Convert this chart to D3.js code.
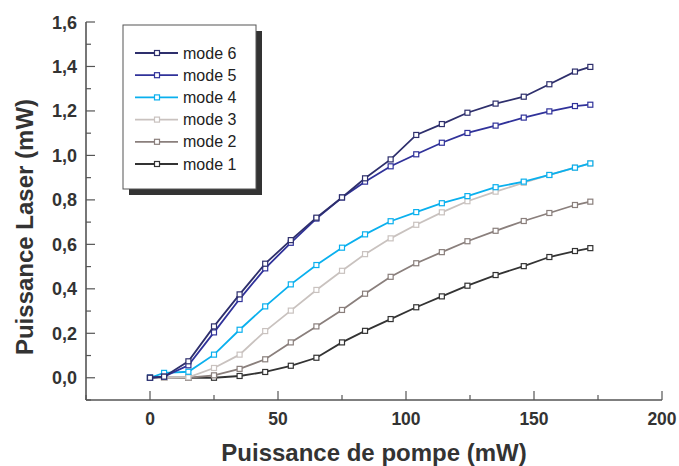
<!DOCTYPE html>
<html><head><meta charset="utf-8">
<script src="https://cdn.jsdelivr.net/npm/d3@7"></script>
<style>
body{margin:0;background:#fff;}
svg{display:block;font-family:"Liberation Sans",Arial,Helvetica,sans-serif;}
</style></head>
<body><svg id="c" width="679" height="466"></svg>
<script>
const pumpPower = [0, 5.5, 15, 25, 35, 45, 55, 65, 75, 84, 94, 104, 114, 124, 135, 146, 156, 166, 172];
const mode1 = [0, 0, 0, 0, 0.008, 0.026, 0.054, 0.090, 0.159, 0.211, 0.264, 0.317, 0.366, 0.414, 0.462, 0.502, 0.543, 0.570, 0.583];
const mode2 = [0, 0, 0, 0.011, 0.040, 0.083, 0.159, 0.231, 0.305, 0.378, 0.454, 0.515, 0.565, 0.614, 0.661, 0.705, 0.741, 0.777, 0.792];
const mode3 = [0, 0, 0.002, 0.044, 0.104, 0.210, 0.302, 0.395, 0.481, 0.556, 0.627, 0.688, 0.744, 0.794, 0.837, 0.877, 0.912, 0.945, 0.964];
const mode4 = [0, 0.022, 0.027, 0.104, 0.216, 0.321, 0.420, 0.507, 0.585, 0.645, 0.704, 0.745, 0.785, 0.817, 0.857, 0.882, 0.912, 0.945, 0.964];
const mode5 = [0, 0.005, 0.056, 0.204, 0.354, 0.492, 0.607, 0.716, 0.811, 0.882, 0.951, 1.005, 1.057, 1.101, 1.134, 1.170, 1.198, 1.222, 1.228];
const mode6 = [0, 0.005, 0.074, 0.231, 0.375, 0.513, 0.619, 0.720, 0.811, 0.897, 0.982, 1.092, 1.141, 1.192, 1.233, 1.264, 1.320, 1.377, 1.398];
const seriesNames = ["mode 1", "mode 2", "mode 3", "mode 4", "mode 5", "mode 6"];
const seriesColors = ["#333333", "#8a7f7c", "#c9c2bf", "#0ab0ee", "#30329a", "#2e2f6c"];
const xTicks = [0, 50, 100, 150, 200];
const yTicks = [0, 0.2, 0.4, 0.6, 0.8, 1.0, 1.2, 1.4, 1.6];
const xTitle = "Puissance de pompe (mW)";
const yTitle = "Puissance Laser (mW)";

const allSeries = [mode1, mode2, mode3, mode4, mode5, mode6];
const svg = d3.select("#c");
const x = d3.scaleLinear().domain([-25, 200]).range([86, 662]);
const y = d3.scaleLinear().domain([-0.1, 1.6]).range([400, 22]);
const axisColor = "#555";
const fmt = d => d3.format(".1f")(d).replace(".", ",");

// X axis
const gx = svg.append("g").attr("transform", "translate(0,400)");
gx.append("line").attr("x1", 86).attr("x2", 662).attr("stroke", axisColor).attr("stroke-width", 1.6);
const xMinor = d3.range(-25, 201, 25).filter(v => xTicks.indexOf(v) < 0);
gx.selectAll(".xmaj").data(xTicks).join("line")
  .attr("x1", d => x(d)).attr("x2", d => x(d)).attr("y1", 0).attr("y2", -9)
  .attr("stroke", axisColor).attr("stroke-width", 1.2);
gx.selectAll(".xmin").data(xMinor).join("line")
  .attr("x1", d => x(d)).attr("x2", d => x(d)).attr("y1", 0).attr("y2", -5)
  .attr("stroke", axisColor).attr("stroke-width", 1.2);
gx.selectAll(".xl").data(xTicks).join("text")
  .attr("x", d => x(d)).attr("y", 25).attr("text-anchor", "middle")
  .attr("font-size", 17.5).attr("font-weight", "bold").attr("fill", "#333").text(d => d);

// Y axis
const gy = svg.append("g");
gy.append("line").attr("x1", 86).attr("x2", 86).attr("y1", 22).attr("y2", 400).attr("stroke", axisColor).attr("stroke-width", 1.6);
const yMinor = d3.range(-1, 16, 2).map(v => v / 10);
gy.selectAll(".ymaj").data(yTicks).join("line")
  .attr("x1", 86).attr("x2", 95).attr("y1", d => y(d)).attr("y2", d => y(d))
  .attr("stroke", axisColor).attr("stroke-width", 1.2);
gy.selectAll(".ymin").data(yMinor).join("line")
  .attr("x1", 86).attr("x2", 91).attr("y1", d => y(d)).attr("y2", d => y(d))
  .attr("stroke", axisColor).attr("stroke-width", 1.2);
gy.selectAll(".yl").data(yTicks).join("text")
  .attr("x", 77).attr("y", d => y(d) + 6.5).attr("text-anchor", "end")
  .attr("font-size", 18).attr("font-weight", "bold").attr("fill", "#333").text(fmt);

// Titles
svg.append("text").attr("x", 374).attr("y", 461).attr("text-anchor", "middle")
  .attr("font-size", 24).attr("font-weight", "bold").attr("fill", "#333").text(xTitle);
svg.append("text").attr("transform", "translate(33,227) rotate(-90)").attr("text-anchor", "middle")
  .attr("font-size", 24).attr("font-weight", "bold").attr("fill", "#333").text(yTitle);

// Lines
const line = d3.line().x((d, i) => x(pumpPower[i])).y(d => y(d));
allSeries.forEach((s, k) => {
  const g = svg.append("g");
  g.append("path").attr("d", line(s)).attr("fill", "none")
    .attr("stroke", seriesColors[k]).attr("stroke-width", 1.8);
  g.selectAll("rect").data(s).join("rect")
    .attr("x", (d, i) => x(pumpPower[i]) - 2.5).attr("y", d => y(d) - 2.5)
    .attr("width", 5).attr("height", 5)
    .attr("fill", "#fff").attr("stroke", seriesColors[k]).attr("stroke-width", 1.2);
});

// Legend
const lg = svg.append("g");
lg.append("rect").attr("x", 129).attr("y", 31).attr("width", 133).attr("height", 164).attr("fill", "#333");
lg.append("rect").attr("x", 123).attr("y", 25).attr("width", 133).attr("height", 164)
  .attr("fill", "#fff").attr("stroke", "#555").attr("stroke-width", 1);
const order = [5, 4, 3, 2, 1, 0];
order.forEach((k, r) => {
  const yy = 53 + r * 22.2;
  lg.append("line").attr("x1", 135).attr("x2", 178).attr("y1", yy).attr("y2", yy)
    .attr("stroke", seriesColors[k]).attr("stroke-width", 1.8);
  lg.append("rect").attr("x", 154.5).attr("y", yy - 2.5).attr("width", 5).attr("height", 5)
    .attr("fill", "#fff").attr("stroke", seriesColors[k]).attr("stroke-width", 1.2);
  lg.append("text").attr("x", 183).attr("y", yy + 5.5).attr("font-size", 16)
    .attr("fill", "#222").text(seriesNames[k]);
});
</script></body></html>
